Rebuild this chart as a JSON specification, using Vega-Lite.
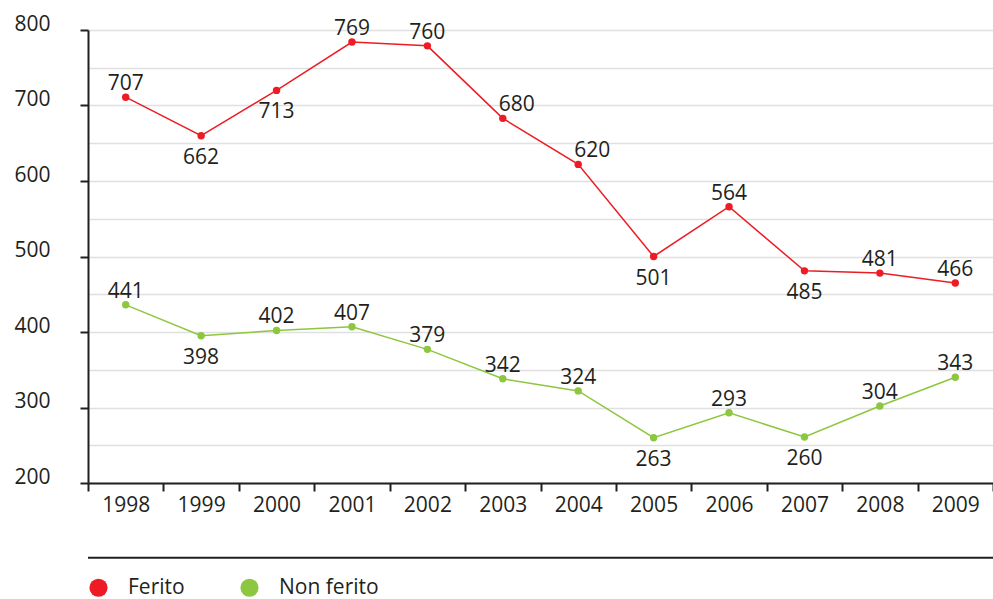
{
  "$schema": "https://vega.github.io/schema/vega-lite/v6.json",
  "width": 905,
  "height": 453,
  "autosize": {"type": "none"},
  "padding": {"left": 88, "top": 30, "right": 0, "bottom": 116},
  "background": "white",
  "config": {"view": {"stroke": null}, "font": "Open Sans"},
  "data": {
    "values": [
      {"year": "1998", "series": "Ferito", "value": 711, "label": "707"},
      {"year": "1999", "series": "Ferito", "value": 660, "label": "662"},
      {"year": "2000", "series": "Ferito", "value": 720, "label": "713"},
      {"year": "2001", "series": "Ferito", "value": 784, "label": "769"},
      {"year": "2002", "series": "Ferito", "value": 779, "label": "760"},
      {"year": "2003", "series": "Ferito", "value": 683, "label": "680"},
      {"year": "2004", "series": "Ferito", "value": 622, "label": "620"},
      {"year": "2005", "series": "Ferito", "value": 500, "label": "501"},
      {"year": "2006", "series": "Ferito", "value": 566, "label": "564"},
      {"year": "2007", "series": "Ferito", "value": 481, "label": "485"},
      {"year": "2008", "series": "Ferito", "value": 478, "label": "481"},
      {"year": "2009", "series": "Ferito", "value": 465, "label": "466"},
      {"year": "1998", "series": "Non ferito", "value": 436, "label": "441"},
      {"year": "1999", "series": "Non ferito", "value": 395, "label": "398"},
      {"year": "2000", "series": "Non ferito", "value": 402, "label": "402"},
      {"year": "2001", "series": "Non ferito", "value": 407, "label": "407"},
      {"year": "2002", "series": "Non ferito", "value": 377, "label": "379"},
      {"year": "2003", "series": "Non ferito", "value": 338, "label": "342"},
      {"year": "2004", "series": "Non ferito", "value": 322, "label": "324"},
      {"year": "2005", "series": "Non ferito", "value": 260, "label": "263"},
      {"year": "2006", "series": "Non ferito", "value": 293, "label": "293"},
      {"year": "2007", "series": "Non ferito", "value": 261, "label": "260"},
      {"year": "2008", "series": "Non ferito", "value": 302, "label": "304"},
      {"year": "2009", "series": "Non ferito", "value": 340, "label": "343"}
    ]
  },
  "encoding": {
    "y": {
      "type": "quantitative",
      "scale": {"domain": [200, 800], "nice": false, "zero": false},
      "axis": {
        "title": null,
        "values": [200, 250, 300, 350, 400, 450, 500, 550, 600, 650, 700, 750, 800],
        "labelExpr": "datum.value % 100 === 0 ? datum.label : ''",
        "labelOverlap": false,
        "tickOpacity": {"condition": {"test": "datum.value % 100 === 0", "value": 1}, "value": 0},
        "tickSize": 8,
        "tickWidth": 2,
        "tickColor": "#231f20",
        "domainColor": "#231f20",
        "domainWidth": 2,
        "grid": true,
        "gridColor": "#e0e0e0",
        "gridWidth": 1.5,
        "labelFontSize": 21,
        "labelColor": "#231f20",
        "labelPadding": 30,
        "labelBaseline": "alphabetic",
        "labelAlign": "right"
      }
    }
  },
  "layer": [
    {
      "data": {"values": [{"sep": 101}]},
      "mark": {"type": "rule", "color": "#231f20", "strokeWidth": 2},
      "encoding": {
        "y": {"field": "sep"}
      }
    },
    {
      "encoding": {
        "x": {
          "field": "year",
          "type": "ordinal",
          "scale": {"type": "band", "paddingInner": 0, "paddingOuter": 0},
          "axis": {
            "title": null,
            "tickBand": "extent",
            "tickSize": 8,
            "tickWidth": 2,
            "tickColor": "#231f20",
            "domainColor": "#231f20",
            "domainWidth": 2,
            "labelFontSize": 21,
            "labelColor": "#231f20",
            "labelPadding": 3,
            "labelAngle": 0,
            "grid": false
          }
        },
        "y": {"field": "value"},
        "color": {
          "field": "series",
          "type": "nominal",
          "scale": {"domain": ["Ferito", "Non ferito"], "range": ["#ed1c24", "#8dc63f"]},
          "legend": {
            "title": null,
            "orient": "none",
            "legendX": 0,
            "legendY": 547,
            "direction": "horizontal",
            "symbolType": "circle",
            "symbolSize": 330,
            "symbolOpacity": 1,
            "symbolStrokeWidth": 0,
            "labelFontSize": 21,
            "labelColor": "#231f20",
            "labelOffset": 19,
            "columnPadding": 54,
            "padding": 0
          }
        }
      },
      "layer": [
        {
          "mark": {"type": "line", "strokeWidth": 1.5}
        },
        {
          "mark": {"type": "point", "filled": true, "size": 55, "opacity": 1}
        },
        {
          "transform": [
            {"filter": "!((datum.series === 'Ferito' && indexof(['1999','2000','2005','2007','2003','2004'], datum.year) >= 0) || (datum.series === 'Non ferito' && indexof(['1999','2005','2007'], datum.year) >= 0))"}
          ],
          "mark": {"type": "text", "fontSize": 21, "baseline": "alphabetic", "dy": -7},
          "encoding": {"text": {"field": "label"}, "color": {"value": "#231f20"}}
        },
        {
          "transform": [
            {"filter": "datum.series === 'Ferito' && indexof(['2003','2004'], datum.year) >= 0"}
          ],
          "mark": {"type": "text", "fontSize": 21, "baseline": "alphabetic", "dy": -7, "dx": 14},
          "encoding": {"text": {"field": "label"}, "color": {"value": "#231f20"}}
        },
        {
          "transform": [
            {"filter": "(datum.series === 'Ferito' && indexof(['1999','2000','2005','2007'], datum.year) >= 0) || (datum.series === 'Non ferito' && indexof(['1999','2005','2007'], datum.year) >= 0)"}
          ],
          "mark": {"type": "text", "fontSize": 21, "baseline": "alphabetic", "dy": 28},
          "encoding": {"text": {"field": "label"}, "color": {"value": "#231f20"}}
        }
      ]
    }
  ]
}
